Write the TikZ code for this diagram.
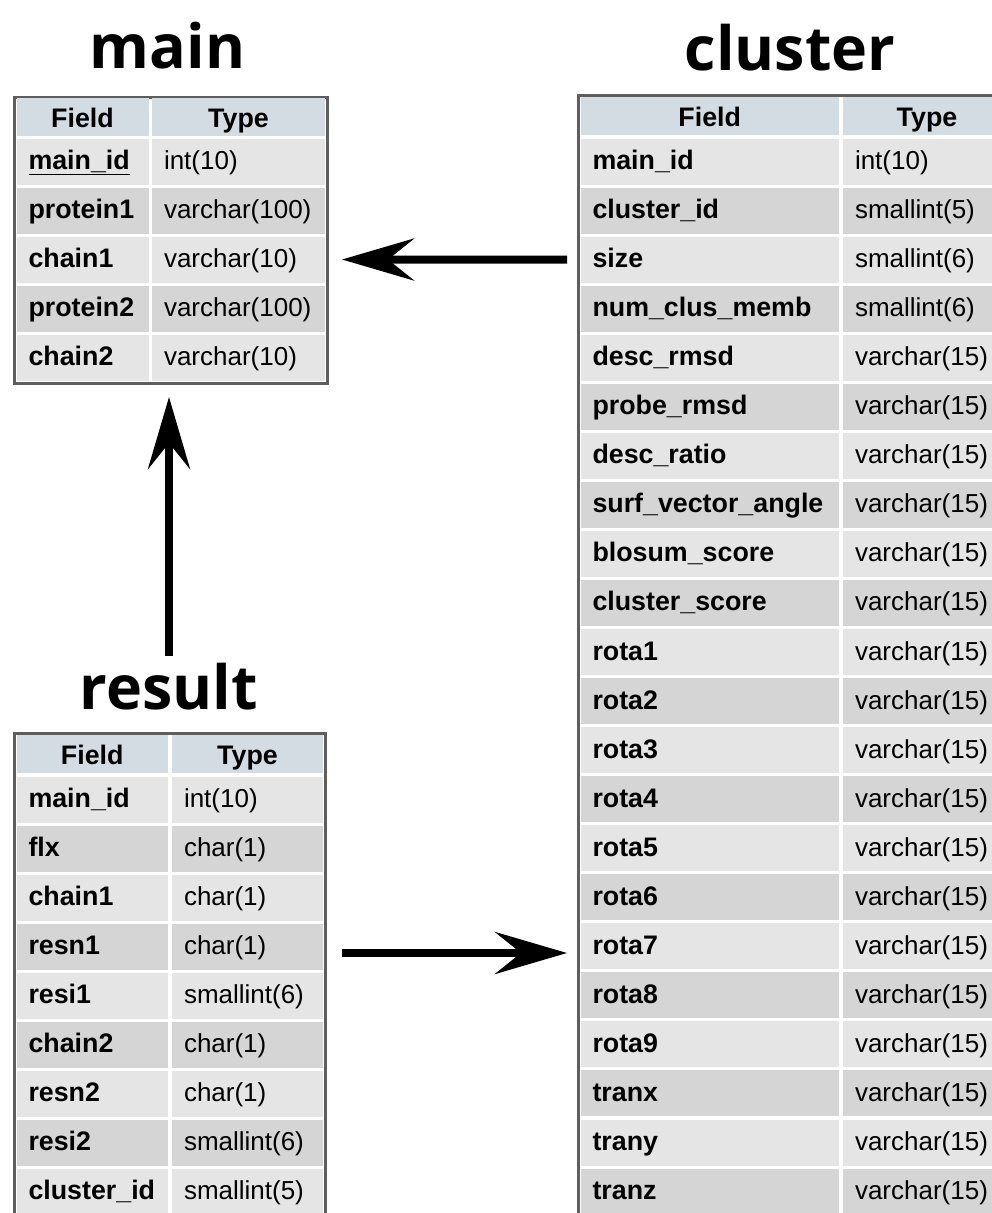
\documentclass[tikz,border=0pt]{standalone}
\usepackage{fontspec}
\setmainfont{Liberation Sans}
\newfontfamily\headfont{Open Sans}
\usetikzlibrary{arrows.meta}

\definecolor{headblue}{HTML}{D3DCE3}
\definecolor{rowlight}{HTML}{E5E5E5}
\definecolor{rowdark}{HTML}{D5D5D5}
\definecolor{framegray}{HTML}{5E5E5E}

\tikzset{
  tabletitle/.style={anchor=base, inner sep=0pt, font=\headfont\bfseries\fontsize{61}{70}\selectfont},
  cell/.style={anchor=north west, inner xsep=12pt, inner ysep=0pt, outer sep=0pt, align=left,
    text height=20pt, text depth=4pt, minimum height=46pt, font=\fontsize{26}{30}\selectfont},
  fieldcell/.style={cell, font=\bfseries\fontsize{26.8}{30}\selectfont},
  headcell/.style={cell, align=center, fill=headblue, minimum height=38pt, text height=21pt, text depth=0pt,
    font=\bfseries\fontsize{26.8}{30}\selectfont},
  tableframe/.style={draw=framegray, line width=3pt},
  bigarrow/.style={line width=8pt, -{Stealth[length=72pt,width=42pt,inset=26pt]}}
}

\begin{document}
\begin{tikzpicture}[x=1pt,y=-1pt]
  \useasboundingbox (0,0) rectangle (992,1213);
  \clip (0,0) rectangle (992,1213);

  % main
  \node[tabletitle] (maintitle) at (167.5,68) {main};
  \draw[tableframe] (14,97) rectangle (327,383);
  \node[headcell, text width=108pt] (main-fh) at (16.5,98) {Field};
  \node[headcell, text width=149pt] (main-th) at (152,98) {Type};
  \foreach \fname/\ftype [count=\i] in {{\underline{main\_id}}/int(10), protein1/varchar(100),
      chain1/varchar(10), protein2/varchar(100), chain2/varchar(10)} {
    \ifodd\i \def\rowcol{rowlight}\else\def\rowcol{rowdark}\fi
    \node[fieldcell, fill=\rowcol, text width=108pt] (main-f\i) at (16.5,{138.5+(\i-1)*49}) {\fname};
    \node[cell, fill=\rowcol, text width=149pt] (main-t\i) at (152,{138.5+(\i-1)*49}) {\ftype};
  }

  % cluster
  \node[tabletitle] (clustitle) at (790,70) {cluster};
  \draw[tableframe] (578,95) rectangle (1012,1240);
  \node[headcell, text width=234.5pt] (clus-fh) at (580.5,97) {Field};
  \node[headcell, text width=144pt] (clus-th) at (843,97) {Type};
  \foreach \fname/\ftype [count=\i] in {main\_id/int(10), cluster\_id/smallint(5), size/smallint(6),
      num\_clus\_memb/smallint(6), desc\_rmsd/varchar(15), probe\_rmsd/varchar(15),
      desc\_ratio/varchar(15), surf\_vector\_angle/varchar(15), blosum\_score/varchar(15),
      cluster\_score/varchar(15), rota1/varchar(15), rota2/varchar(15), rota3/varchar(15),
      rota4/varchar(15), rota5/varchar(15), rota6/varchar(15), rota7/varchar(15),
      rota8/varchar(15), rota9/varchar(15), tranx/varchar(15), trany/varchar(15),
      tranz/varchar(15)} {
    \ifodd\i \def\rowcol{rowlight}\else\def\rowcol{rowdark}\fi
    \node[fieldcell, fill=\rowcol, text width=234.5pt] (clus-f\i) at (580.5,{138.5+(\i-1)*49.05}) {\fname};
    \node[cell, fill=\rowcol, text width=144pt] (clus-t\i) at (843,{138.5+(\i-1)*49.05}) {\ftype};
  }

  % result
  \node[tabletitle] (restitle) at (169,709) {result};
  \draw[tableframe] (14,733) rectangle (325,1240);
  \node[headcell, text width=127.5pt] (res-fh) at (16.5,735) {Field};
  \node[headcell, text width=127pt] (res-th) at (172,735) {Type};
  \foreach \fname/\ftype [count=\i] in {main\_id/int(10), flx/char(1), chain1/char(1),
      resn1/char(1), resi1/smallint(6), chain2/char(1), resn2/char(1), resi2/smallint(6),
      cluster\_id/smallint(5)} {
    \ifodd\i \def\rowcol{rowlight}\else\def\rowcol{rowdark}\fi
    \node[fieldcell, fill=\rowcol, text width=127.5pt] (res-f\i) at (16.5,{776.5+(\i-1)*49}) {\fname};
    \node[cell, fill=\rowcol, text width=127pt] (res-t\i) at (172,{776.5+(\i-1)*49}) {\ftype};
  }

  % links
  \draw[bigarrow, shorten <=13.5pt, shorten >=17pt] (clus-f3.west) -- (main-t3.east);
  \draw[bigarrow, shorten <=6pt, shorten >=16.5pt] (restitle.north) -- (restitle.north |- main-t5.south);
  \draw[bigarrow, shorten <=19pt, shorten >=13.5pt] ([yshift=-6.5pt]res-t4.east) -- ([yshift=-6.5pt]res-t4.east -| clus-f1.west);
\end{tikzpicture}
\end{document}
